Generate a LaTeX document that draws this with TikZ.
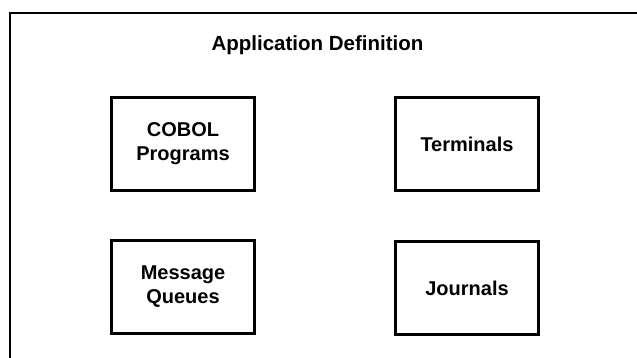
\documentclass[tikz,border=0pt]{standalone}
\usepackage{fontspec}
\setmainfont{Liberation Sans}
\begin{document}
\begin{tikzpicture}[x=1pt,y=-1pt,
  part/.style={draw, line width=3.2pt, minimum width=143pt, minimum height=93pt,
    inner sep=0pt, align=center, font=\bfseries\fontsize{20}{24}\selectfont},
  heading/.style={font=\bfseries\fontsize{20.5}{24}\selectfont, inner sep=0pt}]
  \useasboundingbox (0,0) rectangle (637,358);
  \clip (0,0) rectangle (637,358);
  % enclosing frame, running off the right and bottom edges
  \draw[line width=2.8pt] (10,13) rectangle (660,380);
  \node[heading] (title) at (317.5,45) {Application Definition};
  \node[part] (cobol) at (183,144) {COBOL\\Programs};
  \node[part] (term) at (467,144) {Terminals};
  \node[part] (mq) at (183,287) {Message\\Queues};
  \node[part] (jour) at (467,288) {Journals};
\end{tikzpicture}
\end{document}
